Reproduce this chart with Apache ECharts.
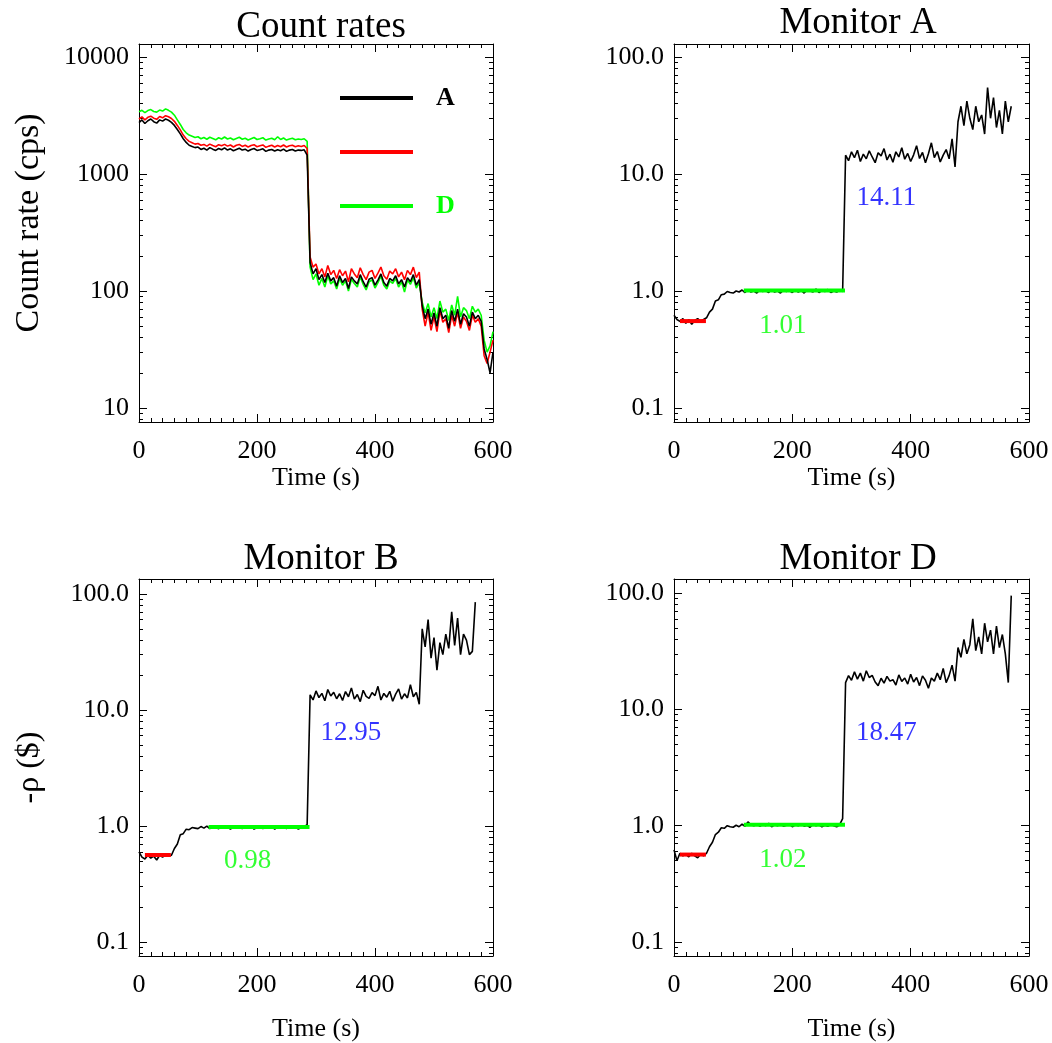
<!DOCTYPE html>
<html>
<head>
<meta charset="utf-8">
<script src="https://cdn.jsdelivr.net/npm/echarts@6/dist/echarts.min.js"></script>
<style>
  html, body { margin: 0; padding: 0; background: #fff; }
  #main { width: 1052px; height: 1043px; }
</style>
</head>
<body>
<div id="main"></div>
<script>
// ---- data ----
// count rates (cps), sampled every 5 s from 0 to 600 s
var rateA = [
  2750, 2900, 2700, 2850, 2950, 2800, 2720, 2900, 2830, 2950,
  2880, 2760, 2600, 2400, 2200, 2000, 1860, 1760, 1720, 1680,
  1700, 1620, 1660, 1600, 1680, 1630, 1590, 1650, 1610, 1670,
  1600, 1640, 1580, 1620, 1660, 1600, 1630, 1570, 1620, 1650,
  1590, 1610, 1640, 1560, 1600, 1620, 1570, 1610, 1580, 1630,
  1560, 1600, 1620, 1570, 1600, 1590, 1610, 1450,
  175, 140, 155, 125, 138, 118, 142, 122, 130, 110,
  135, 118, 128, 105, 132, 122, 115, 138, 120, 108,
  126, 130, 112, 124, 140, 118, 110, 128, 122, 135,
  115, 125, 108, 130, 120, 138, 112, 125,
  75, 58, 70, 52, 65, 50, 72, 58, 62, 48,
  68, 55, 70, 52, 64, 60, 50, 66, 58, 62,
  55, 32, 26, 20, 30
];
var rateB = [
  2950, 3080, 2900, 3050, 3120, 3000, 2930, 3100, 3020, 3150,
  3080, 2980, 2820, 2600, 2380, 2150, 2000, 1900, 1850, 1800,
  1820, 1760, 1790, 1730, 1800, 1750, 1710, 1780, 1740, 1790,
  1730, 1770, 1700, 1760, 1790, 1720, 1760, 1700, 1750, 1780,
  1710, 1740, 1770, 1690, 1730, 1760, 1700, 1750, 1710, 1770,
  1700, 1740, 1760, 1710, 1740, 1720, 1750, 1650,
  195, 160, 170, 140, 155, 132, 165, 138, 150, 128,
  152, 135, 148, 120, 155, 140, 130, 158, 138, 125,
  145, 150, 128, 142, 160, 135, 126, 148, 140, 155,
  132, 145, 125, 150, 138, 160, 130, 145,
  70, 50, 66, 46, 60, 45, 68, 54, 58, 44,
  62, 50, 66, 48, 60, 55, 46, 62, 54, 58,
  50, 28, 24, 30, 38
];
var rateD = [
  3400, 3500, 3350, 3480, 3550, 3420, 3380, 3520, 3450, 3600,
  3500, 3380, 3180, 2900, 2650, 2400, 2250, 2150, 2100, 2050,
  2080, 2000, 2050, 1980, 2060, 2010, 1960, 2040, 1990, 2070,
  1990, 2030, 1960, 2010, 2060, 1980, 2020, 1950, 2000, 2050,
  1970, 2000, 2040, 1950, 1990, 2020, 1960, 2080, 1970, 2030,
  1950, 1990, 2020, 1960, 1990, 1970, 2000, 1900,
  160, 125, 140, 112, 128, 108, 135, 115, 122, 104,
  128, 112, 122, 100, 126, 116, 108, 132, 114, 102,
  120, 124, 106, 118, 134, 112, 104, 122, 116, 128,
  108, 120, 98, 124, 114, 130, 106, 118,
  80, 65, 78, 60, 72, 58, 82, 66, 70, 56,
  76, 62, 90, 60, 72, 68, 58, 74, 66, 70,
  62, 38, 30, 34, 45
];

// reactivity -rho ($) from each monitor, every 5 s from 0 s
var rhoA = [
  0.62, 0.57, 0.55, 0.58, 0.53, 0.57, 0.52, 0.56, 0.58, 0.55,
  0.57, 0.59, 0.66, 0.70, 0.82, 0.84, 0.93, 0.94, 0.99, 0.97,
  0.96, 1.00, 0.98, 1.02, 0.97, 1.03, 0.98, 1.00, 0.96, 1.02,
  0.99, 1.01, 0.97, 1.03, 0.98, 1.00, 0.96, 1.02, 0.99, 1.01,
  0.97, 1.03, 0.98, 1.01, 0.96, 1.02, 1.00, 0.98, 1.04, 0.97,
  1.01, 0.99, 1.03, 0.97, 1.00, 0.98, 1.02, 0.99,
  14.5, 13.0, 15.5, 13.8, 16.0, 12.8, 14.8, 13.5, 15.8, 14.0,
  12.5, 15.2, 14.3, 16.5, 13.2, 14.8, 12.6, 15.5, 14.0, 16.8,
  13.4, 15.0, 12.8, 14.6, 17.5, 13.6, 15.3, 12.5, 14.9, 18.5,
  13.8, 15.6, 12.7, 14.5, 16.2, 13.5, 20.0, 11.5,
  28, 38, 26, 42, 30, 24, 38, 28, 32, 22,
  55, 30, 45, 25, 35, 22, 42, 28, 38
];
var rhoB = [
  0.60, 0.54, 0.52, 0.56, 0.53, 0.55, 0.51, 0.56, 0.54, 0.57,
  0.55, 0.56, 0.64, 0.70, 0.84, 0.86, 0.94, 0.93, 0.97, 0.96,
  0.95, 0.99, 0.96, 1.00, 0.95, 0.99, 0.97, 0.95, 1.00, 0.96,
  0.98, 0.94, 0.99, 0.97, 1.01, 0.95, 0.98, 0.96, 1.00, 0.94,
  0.97, 0.99, 0.95, 0.98, 0.96, 1.01, 0.94, 0.98, 0.96, 0.99,
  0.95, 0.98, 0.96, 1.00, 0.94, 0.97, 0.99, 1.03,
  13.5, 12.2, 14.6, 12.8, 13.9, 12.0, 15.0, 13.2, 14.2, 12.5,
  13.8, 12.1, 14.4, 13.0, 15.5, 12.4, 13.6, 11.8, 14.8, 13.1,
  12.6, 14.1, 13.3, 16.0, 12.2, 13.9, 12.9, 14.5, 11.9, 13.7,
  15.2, 12.4, 13.8, 12.7, 16.5, 13.0, 14.2, 11.2,
  50, 35, 60, 28, 42, 22, 38, 30, 45, 34,
  70, 36, 62, 30, 45, 40, 30, 32, 85
];
var rhoD = [
  0.62, 0.50, 0.58, 0.55, 0.57, 0.54, 0.58, 0.55, 0.53, 0.57,
  0.55, 0.58, 0.66, 0.72, 0.84, 0.88, 0.96, 0.95, 1.00, 0.98,
  0.97, 1.01, 0.98, 1.03, 0.99, 1.08, 1.02, 1.00, 1.04, 0.99,
  1.03, 1.00, 1.05, 0.98, 1.02, 1.00, 1.04, 0.99, 1.01, 1.03,
  0.98, 1.02, 1.00, 1.04, 0.99, 1.01, 0.97, 1.03, 1.00, 1.02,
  0.98, 1.01, 0.99, 1.03, 1.00, 0.98, 1.02, 1.15,
  17.0, 19.5, 17.8, 21.0, 18.2, 20.5, 17.5, 21.5, 18.8, 19.6,
  17.2, 16.0, 18.5, 16.8, 19.2, 17.5, 18.0, 16.2, 19.8, 17.4,
  18.6, 16.5, 20.0, 17.2, 18.8, 16.0, 19.4, 17.8, 15.2, 18.6,
  17.5, 20.5, 18.0, 22.5, 17.0, 19.5, 24.0, 17.5,
  34, 28, 40, 30, 36, 60, 32, 42, 30, 55,
  38, 48, 30, 52, 34, 44, 30, 17, 95
];

// fitted levels (A, B, D) and the time windows they cover
var earlyLevel = [0.553, 0.563, 0.565];
var midLevel = [1.01, 0.98, 1.02];
var highLevel = [14.11, 12.95, 18.47];
var earlyFitT = [10, 54];
var midFitT = [118, 289];

var timeStep = 5;
var monitorNames = ['Monitor A', 'Monitor B', 'Monitor D'];

// ---- chart ----
var FONT = 'Liberation Serif';
var chart = echarts.init(document.getElementById('main'));

function pairs(vals) {
  return vals.map(function (v, i) { return [i * timeStep, v]; });
}
function logMajor(min, max) {
  var out = [];
  for (var e = -3; e <= 6; e++) {
    var v = Math.pow(10, e);
    if (v >= min && v <= max) out.push(v);
  }
  return out;
}
function logMinor(min, max) {
  var out = [];
  for (var e = -3; e <= 6; e++) {
    for (var k = 2; k <= 9; k++) {
      var v = k * Math.pow(10, e);
      if (v > min && v < max) out.push(v);
    }
  }
  return out;
}

var grids = [
  { left: 139, top: 44, width: 354, height: 378 },
  { left: 674, top: 44, width: 355, height: 378 },
  { left: 139, top: 579, width: 354, height: 378 },
  { left: 674, top: 579, width: 355, height: 378 }
];
var yRanges = [[7.59, 12910], [0.0758, 129.5], [0.0759, 134.5], [0.0759, 132]];
var yNames = ['Count rate (cps)', '', '-\u03c1 ($)', ''];
var titlePos = [[316, 4], [853, 0], [316, 536], [853, 536]];
var titles = ['Count rates'].concat(monitorNames);

var xAxes = [], yAxes = [];
grids.forEach(function (g, i) {
  var nameGap = i < 2 ? 43 : 60;
  xAxes.push({
    type: 'value', gridIndex: i, min: 0, max: 600, interval: 200, position: 'bottom',
    axisLine: { lineStyle: { color: '#000', width: 1 } },
    axisTick: { inside: true, length: 8, lineStyle: { color: '#000' } },
    minorTick: { show: true, splitNumber: 10, length: 4, lineStyle: { color: '#000' } },
    splitLine: { show: false },
    axisLabel: { color: '#000', fontFamily: FONT, fontSize: 26, margin: 16 },
    name: 'Time (s)', nameLocation: 'middle', nameGap: nameGap,
    nameTextStyle: { color: '#000', fontFamily: FONT, fontSize: 26 }
  });
  xAxes.push({
    type: 'value', gridIndex: i, min: 0, max: 600, interval: 200, position: 'top',
    axisLine: { lineStyle: { color: '#000', width: 1 } },
    axisTick: { inside: true, length: 8, lineStyle: { color: '#000' } },
    minorTick: { show: true, splitNumber: 10, length: 4, lineStyle: { color: '#000' } },
    splitLine: { show: false },
    axisLabel: { show: false }
  });
  var r = yRanges[i];
  var major = logMajor(r[0], r[1]);
  var minor = logMinor(r[0], r[1]);
  ['left', 'right'].forEach(function (side) {
    yAxes.push({
      type: 'log', gridIndex: i, min: r[0], max: r[1], position: side,
      axisLine: { show: true, lineStyle: { color: '#000', width: 1 } },
      axisTick: { inside: true, length: 8, customValues: major, lineStyle: { color: '#000' } },
      splitLine: { show: false },
      axisLabel: {
        show: side === 'left', customValues: major, color: '#000', fontFamily: FONT, fontSize: 26, margin: 10,
        formatter: function (v) { return i === 0 ? String(Math.round(v)) : v.toFixed(1); }
      },
      name: side === 'left' ? yNames[i] : '', nameLocation: 'middle', nameGap: 93, nameRotate: 90,
      nameTextStyle: {
        color: '#000', fontFamily: FONT, fontSize: i === 0 ? 34 : 32,
        padding: i === 0 ? [0, 0, 0, 20] : 0
      }
    });
    yAxes.push({
      type: 'log', gridIndex: i, min: r[0], max: r[1], position: side,
      axisLine: { show: false },
      axisTick: { inside: true, length: 4, customValues: minor, lineStyle: { color: '#000' } },
      splitLine: { show: false },
      axisLabel: { show: false }
    });
  });
});

var series = [
  { name: 'D', type: 'line', xAxisIndex: 0, yAxisIndex: 0, data: pairs(rateD), showSymbol: false,
    lineStyle: { color: '#00ff00', width: 1.6 }, itemStyle: { color: '#00ff00' } },
  { name: 'B', type: 'line', xAxisIndex: 0, yAxisIndex: 0, data: pairs(rateB), showSymbol: false,
    lineStyle: { color: '#ff0000', width: 1.6 }, itemStyle: { color: '#ff0000' } },
  { name: 'A', type: 'line', xAxisIndex: 0, yAxisIndex: 0, data: pairs(rateA), showSymbol: false,
    lineStyle: { color: '#000', width: 1.6 }, itemStyle: { color: '#000' } }
];

[rhoA, rhoB, rhoD].forEach(function (vals, m) {
  var gi = m + 1;
  var xi = gi * 2, yi = gi * 4;
  series.push({
    name: monitorNames[m], type: 'line', xAxisIndex: xi, yAxisIndex: yi, data: pairs(vals),
    showSymbol: false, lineStyle: { color: '#000', width: 1.6 }
  });
  series.push({
    name: monitorNames[m] + ' early fit', type: 'line', xAxisIndex: xi, yAxisIndex: yi,
    data: earlyFitT.map(function (t) { return [t, earlyLevel[m]]; }),
    showSymbol: false, lineStyle: { color: '#ff0000', width: 4 }
  });
  series.push({
    name: monitorNames[m] + ' mid fit', type: 'line', xAxisIndex: xi, yAxisIndex: yi,
    data: midFitT.map(function (t) { return [t, midLevel[m]]; }),
    showSymbol: false, lineStyle: { color: '#00ff00', width: 4 }
  });
  series.push({
    name: monitorNames[m] + ' labels', type: 'scatter', xAxisIndex: xi, yAxisIndex: yi,
    symbolSize: 1, itemStyle: { color: 'rgba(0,0,0,0)' }, silent: true,
    data: [
      { value: [359, 6.3], label: { formatter: highLevel[m].toFixed(2), color: '#0000ff' } },
      { value: [184, 0.505], label: { formatter: midLevel[m].toFixed(2), color: '#00ff00' } }
    ],
    label: { show: true, position: 'inside', fontFamily: FONT, fontSize: 27, textBorderWidth: 0 }
  });
});

var option = {
  animation: false,
  backgroundColor: '#fff',
  title: titles.map(function (t, i) {
    return {
      text: t, left: titlePos[i][0], top: titlePos[i][1], textAlign: 'center',
      textStyle: { color: '#000', fontFamily: FONT, fontSize: 37, fontWeight: 'normal' }
    };
  }),
  legend: {
    left: 335, top: 80, orient: 'vertical', icon: 'rect', itemWidth: 73, itemHeight: 4, itemGap: 28,
    textStyle: { fontFamily: FONT, fontSize: 26, fontWeight: 'bold', padding: [0, 0, 0, 18] },
    formatter: function (n) { return n === 'B' ? ' ' : n; },
    data: [
      { name: 'A', textStyle: { color: '#000' } },
      { name: 'B', textStyle: { color: '#ff0000' } },
      { name: 'D', textStyle: { color: '#00ff00' } }
    ]
  },
  grid: grids,
  xAxis: xAxes,
  yAxis: yAxes,
  series: series
};

option && chart.setOption(option);
</script>
</body>
</html>
